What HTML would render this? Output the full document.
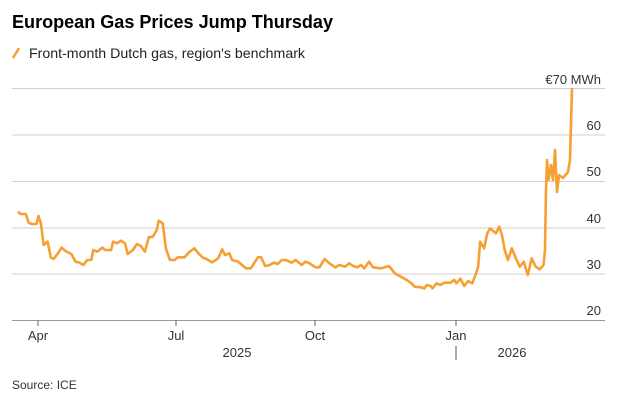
<!DOCTYPE html>
<html><head><meta charset="utf-8"><style>
body{margin:0;background:#fff;width:620px;height:409px;overflow:hidden;font-family:"Liberation Sans",sans-serif;}
</style></head><body>
<svg width="620" height="409" xmlns="http://www.w3.org/2000/svg" font-family="Liberation Sans, sans-serif">
<text x="12" y="28" font-size="18" font-weight="bold" fill="#000" textLength="321" lengthAdjust="spacingAndGlyphs">European Gas Prices Jump Thursday</text>
<line x1="13" y1="58" x2="19" y2="48" stroke="#f6a033" stroke-width="2.5"/>
<text x="29" y="58" font-size="14" fill="#222" textLength="276" lengthAdjust="spacingAndGlyphs">Front-month Dutch gas, region's benchmark</text>
<g stroke="#d0d0d0" stroke-width="1">
<line x1="12" y1="88.5" x2="605" y2="88.5"/>
<line x1="12" y1="135" x2="605" y2="135"/>
<line x1="12" y1="181.5" x2="605" y2="181.5"/>
<line x1="12" y1="228" x2="605" y2="228"/>
<line x1="12" y1="274" x2="605" y2="274"/>
</g>
<line x1="12" y1="320.5" x2="605" y2="320.5" stroke="#999"/>
<g stroke="#666"><line x1="38" y1="320" x2="38" y2="326"/><line x1="176" y1="320" x2="176" y2="326"/><line x1="315" y1="320" x2="315" y2="326"/><line x1="456" y1="320" x2="456" y2="326"/></g>
<g font-size="13" fill="#333" text-anchor="end">
<text x="601" y="84">€70 MWh</text>
<text x="601" y="130">60</text>
<text x="601" y="176">50</text>
<text x="601" y="223">40</text>
<text x="601" y="269">30</text>
<text x="601" y="315">20</text>
</g>
<g font-size="13" fill="#333" text-anchor="middle">
<text x="38" y="340">Apr</text><text x="176" y="340">Jul</text><text x="315" y="340">Oct</text><text x="456" y="340">Jan</text>
<text x="237" y="357">2025</text><text x="512" y="357">2026</text>
</g>
<line x1="456" y1="346" x2="456" y2="360" stroke="#555"/>
<text x="12" y="389" font-size="12" fill="#333">Source: ICE</text>
<g transform="translate(0,180) scale(0.3968,0.3333)">
<polyline fill="none" stroke="#f6a033" stroke-width="2.6" vector-effect="non-scaling-stroke" stroke-linejoin="round" points="45,95 52,102 65,102 72,128 80,132 92,132 97,108 103,130 110,195 120,185 128,232 135,237 145,222 155,203 165,213 180,222 190,245 200,248 210,255 220,240 230,240 235,210 245,215 258,203 265,210 280,210 285,185 295,190 305,182 315,190 322,222 335,210 345,192 355,198 365,215 375,172 385,170 395,150 400,122 410,130 418,205 428,240 440,240 448,232 465,232 478,215 490,205 500,220 510,232 520,237 535,247 550,235 560,208 567,225 578,220 585,240 600,245 620,265 632,265 650,232 658,232 668,258 680,255 690,248 700,252 710,240 720,240 735,248 745,240 760,255 770,245 780,250 795,262 805,262 818,237 830,250 845,262 855,255 870,260 880,250 890,258 900,262 910,255 918,265 930,245 940,262 960,265 980,258 985,265 995,280 1010,290 1025,300 1035,308 1045,320 1060,322 1070,325 1075,315 1085,318 1090,325 1100,310 1110,315 1120,308 1135,308 1145,300 1150,310 1160,296 1170,318 1180,303 1190,310 1200,280 1205,260 1210,185 1220,205 1228,160 1235,145 1245,155 1250,160 1258,140 1265,165 1272,210 1280,240 1290,205 1300,235 1310,260 1320,245 1330,285 1340,235 1350,260 1360,268 1370,255"/>
</g>
<polyline fill="none" stroke="#f6a033" stroke-width="2.6" stroke-linejoin="round" points="543.6,265 545,250 546,190 547,160 548.5,180 551,165 553,180 555,150 557,192 559,175 563,178 568,172 570,160 572,88"/>
</svg>
</body></html>
